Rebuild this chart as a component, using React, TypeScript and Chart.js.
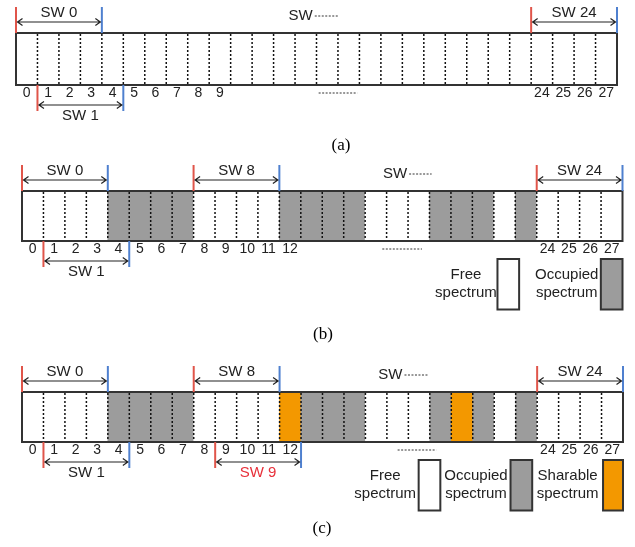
import React, { useEffect, useRef } from 'react';
import { Chart, registerables } from 'chart.js';

Chart.register(...registerables);

// ---------- data ----------
const slots = ['0','1','2','3','4','5','6','7','8','9','10','11','12','13','14','15','16','17','18','19','20','21','22','23','24','25','26','27'];

const tickLabelsA = ['0','1','2','3','4','5','6','7','8','9','','','','','','','','','','','','','','','24','25','26','27'];
const tickLabelsB = ['0','1','2','3','4','5','6','7','8','9','10','11','12','','','','','','','','','','','','24','25','26','27'];
const tickLabelsC = ['0','1','2','3','4','5','6','7','8','9','10','11','12','','','','','','','','','','','','24','25','26','27'];

// F = free, O = occupied, S = sharable
const statesA = ['F','F','F','F','F','F','F','F','F','F','F','F','F','F','F','F','F','F','F','F','F','F','F','F','F','F','F','F'];
const statesB = ['F','F','F','F','O','O','O','O','F','F','F','F','O','O','O','O','F','F','F','O','O','O','F','O','F','F','F','F'];
const statesC = ['F','F','F','F','O','O','O','O','F','F','F','F','S','O','O','O','F','F','F','O','S','O','F','O','F','F','F','F'];

// spectrum windows: label, first slot, end slot (exclusive), side
const windowLabelsA = ['SW 0','SW 1','SW 24'];
const windowStartA = [0, 1, 24];
const windowEndA = [4, 5, 28];
const windowSideA = ['above','below','above'];

const windowLabelsB = ['SW 0','SW 1','SW 8','SW 24'];
const windowStartB = [0, 1, 8, 24];
const windowEndB = [4, 5, 12, 28];
const windowSideB = ['above','below','above','above'];

const windowLabelsC = ['SW 0','SW 1','SW 8','SW 9','SW 24'];
const windowStartC = [0, 1, 8, 9, 24];
const windowEndC = [4, 5, 12, 13, 28];
const windowSideC = ['above','below','above','below','above'];
const highlightedWindowC = ['SW 9'];

const legendStatesB = ['F','O'];
const legendTextB = [['Free','spectrum'],['Occupied','spectrum']];
const legendStatesC = ['F','O','S'];
const legendTextC = [['Free','spectrum'],['Occupied','spectrum'],['Sharable','spectrum']];

const captions = ['(a)','(b)','(c)'];

// ---------- styles ----------
const stateColor: Record<string, string> = { F: '#ffffff', O: '#9c9c9c', S: '#f39800' };
const RED = '#e0554a';
const BLUE = '#4f80cf';
const TEXT = '#222222';
const SANS = '"Liberation Sans", Arial, sans-serif';
const SERIF = '"Liberation Serif", "Times New Roman", serif';

type PanelCfg = {
  top: number; h: number;
  pad: { left: number; right: number; top: number; bottom: number };
  ticks: string[]; states: string[];
  wLabels: string[]; wStart: number[]; wEnd: number[]; wSide: string[];
  highlight: string[];
  swMore: [number, number];
  dots: [number, number];
  legendStates: string[]; legendText: string[][];
  legendBox: [number, number][]; legendTextX: number[];
  caption: string; capX: number; capY: number;
};

const panels: PanelCfg[] = [
  {
    top: 0, h: 160, pad: { left: 16, right: 18, top: 33, bottom: 55 },
    ticks: tickLabelsA, states: statesA,
    wLabels: windowLabelsA, wStart: windowStartA, wEnd: windowEndA, wSide: windowSideA,
    highlight: [], swMore: [12.7, 15.0], dots: [14.1, 15.9],
    legendStates: [], legendText: [], legendBox: [], legendTextX: [],
    caption: captions[0], capX: 341, capY: 146,
  },
  {
    top: 160, h: 190, pad: { left: 22, right: 12.5, top: 31, bottom: 89 },
    ticks: tickLabelsB, states: statesB,
    wLabels: windowLabelsB, wStart: windowStartB, wEnd: windowEndB, wSide: windowSideB,
    highlight: [], swMore: [16.83, 19.1], dots: [16.8, 18.65],
    legendStates: legendStatesB, legendText: legendTextB,
    legendBox: [[22.17, 23.18], [26.99, 28.0]], legendTextX: [20.7, 25.4],
    caption: captions[1], capX: 323, capY: 175,
  },
  {
    top: 350, h: 197, pad: { left: 22, right: 12, top: 42, bottom: 85 },
    ticks: tickLabelsC, states: statesC,
    wLabels: windowLabelsC, wStart: windowStartC, wEnd: windowEndC, wSide: windowSideC,
    highlight: highlightedWindowC, swMore: [16.6, 18.93], dots: [17.5, 19.3],
    legendStates: legendStatesC, legendText: legendTextC,
    legendBox: [[18.48, 19.49], [22.76, 23.77], [27.07, 28.0]], legendTextX: [16.92, 21.15, 25.42],
    caption: captions[2], capX: 322, capY: 179,
  },
];

function arrow(ctx: CanvasRenderingContext2D, x1: number, x2: number, y: number) {
  ctx.beginPath();
  ctx.moveTo(x1, y); ctx.lineTo(x2, y);
  ctx.moveTo(x1 + 5, y - 3.5); ctx.lineTo(x1, y); ctx.lineTo(x1 + 5, y + 3.5);
  ctx.moveTo(x2 - 5, y - 3.5); ctx.lineTo(x2, y); ctx.lineTo(x2 - 5, y + 3.5);
  ctx.stroke();
}

function makePlugin(cfg: PanelCfg) {
  return {
    id: 'spectrumDiagram',
    afterDatasetsDraw(chart: any) {
      const ctx: CanvasRenderingContext2D = chart.ctx;
      const a = chart.chartArea;
      const x = chart.scales.x;
      const bx = (k: number) => x.getPixelForValue(k - 0.5);
      const n = cfg.states.length;
      ctx.save();

      // dotted slot separators
      ctx.strokeStyle = '#111';
      ctx.lineWidth = 1.5;
      ctx.setLineDash([2, 2]);
      for (let k = 1; k < n; k++) {
        const px = bx(k);
        ctx.beginPath();
        ctx.moveTo(px, a.top + 1);
        ctx.lineTo(px, a.bottom - 1);
        ctx.stroke();
      }
      ctx.setLineDash([]);

      // outer box
      ctx.strokeStyle = '#333';
      ctx.lineWidth = 2;
      ctx.strokeRect(bx(0), a.top, bx(n) - bx(0), a.bottom - a.top);

      // spectrum windows
      ctx.font = `15px ${SANS}`;
      ctx.textAlign = 'center';
      ctx.textBaseline = 'middle';
      cfg.wLabels.forEach((lab, i) => {
        const xs = bx(cfg.wStart[i]);
        const xe = bx(cfg.wEnd[i]);
        const above = cfg.wSide[i] === 'above';
        const y0 = above ? a.top - 26 : a.bottom;
        const y1 = above ? a.top : a.bottom + 26;
        const ay = above ? a.top - 11 : a.bottom + 20;
        const ty = above ? a.top - 20.5 : a.bottom + 30.5;
        ctx.lineWidth = 2;
        ctx.strokeStyle = RED;
        ctx.beginPath(); ctx.moveTo(xs, y0); ctx.lineTo(xs, y1); ctx.stroke();
        ctx.strokeStyle = BLUE;
        ctx.beginPath(); ctx.moveTo(xe, y0); ctx.lineTo(xe, y1); ctx.stroke();
        ctx.strokeStyle = '#222';
        ctx.lineWidth = 1.2;
        arrow(ctx, xs + 1.5, xe - 1.5, ay);
        ctx.fillStyle = cfg.highlight.includes(lab) ? '#e8303a' : TEXT;
        ctx.fillText(lab, (xs + xe) / 2, ty);
      });

      // "SW ·····" label
      ctx.textAlign = 'left';
      ctx.fillStyle = TEXT;
      const sx = bx(cfg.swMore[0]);
      const ex = bx(cfg.swMore[1]);
      const sy = a.top - 17;
      ctx.fillText('SW', sx, sy);
      const tw = ctx.measureText('SW').width;
      ctx.strokeStyle = '#333';
      ctx.lineWidth = 1;
      ctx.setLineDash([2, 1.5]);
      ctx.beginPath(); ctx.moveTo(sx + tw + 2, sy); ctx.lineTo(ex, sy); ctx.stroke();
      // dots under the tick row
      ctx.beginPath(); ctx.moveTo(bx(cfg.dots[0]), a.bottom + 8); ctx.lineTo(bx(cfg.dots[1]), a.bottom + 8); ctx.stroke();
      ctx.setLineDash([]);

      // legend
      ctx.textAlign = 'center';
      cfg.legendStates.forEach((st, i) => {
        const [l, r] = cfg.legendBox[i];
        const x0 = bx(l), x1 = bx(r);
        ctx.fillStyle = stateColor[st];
        ctx.fillRect(x0, a.bottom + 18, x1 - x0, 50.5);
        ctx.strokeStyle = '#333';
        ctx.lineWidth = 2;
        ctx.strokeRect(x0, a.bottom + 18, x1 - x0, 50.5);
        ctx.fillStyle = TEXT;
        const tx = bx(cfg.legendTextX[i]);
        ctx.fillText(cfg.legendText[i][0], tx, a.bottom + 33.5);
        ctx.fillText(cfg.legendText[i][1], tx, a.bottom + 52);
      });

      // caption
      ctx.font = `17px ${SERIF}`;
      ctx.fillStyle = '#000';
      ctx.textAlign = 'center';
      ctx.fillText(cfg.caption, cfg.capX, cfg.capY);
      ctx.restore();
    },
  };
}

function Panel({ cfg }: { cfg: PanelCfg }) {
  const ref = useRef<HTMLCanvasElement>(null);
  useEffect(() => {
    const chart = new Chart(ref.current as HTMLCanvasElement, {
      type: 'bar',
      data: {
        labels: slots,
        datasets: [{
          data: cfg.states.map(() => 1),
          backgroundColor: cfg.states.map((s) => stateColor[s]),
          borderWidth: 0,
          barPercentage: 1,
          categoryPercentage: 1,
        }],
      },
      options: {
        responsive: false,
        animation: false,
        devicePixelRatio: 1,
        layout: { padding: cfg.pad },
        plugins: { legend: { display: false }, tooltip: { enabled: false } },
        scales: {
          x: {
            type: 'category',
            offset: true,
            grid: { display: false, drawTicks: false },
            border: { display: false },
            ticks: {
              autoSkip: false,
              maxRotation: 0,
              padding: 0,
              color: TEXT,
              font: { family: SANS, size: 14 },
              callback: (_v: any, i: number) => cfg.ticks[i],
            },
            afterFit: (s: any) => { s.height = 20; },
          },
          y: { display: false, min: 0, max: 1 },
        },
      } as any,
      plugins: [makePlugin(cfg) as any],
    });
    return () => chart.destroy();
  }, [cfg]);
  return (
    <canvas
      ref={ref}
      width={635}
      height={cfg.h}
      style={{ position: 'absolute', left: 0, top: cfg.top, width: 635, height: cfg.h }}
    />
  );
}

export default function App() {
  return (
    <div style={{ position: 'absolute', left: 0, top: 0, width: 635, height: 547, background: '#fff' }}>
      {panels.map((p, i) => <Panel key={i} cfg={p} />)}
    </div>
  );
}
